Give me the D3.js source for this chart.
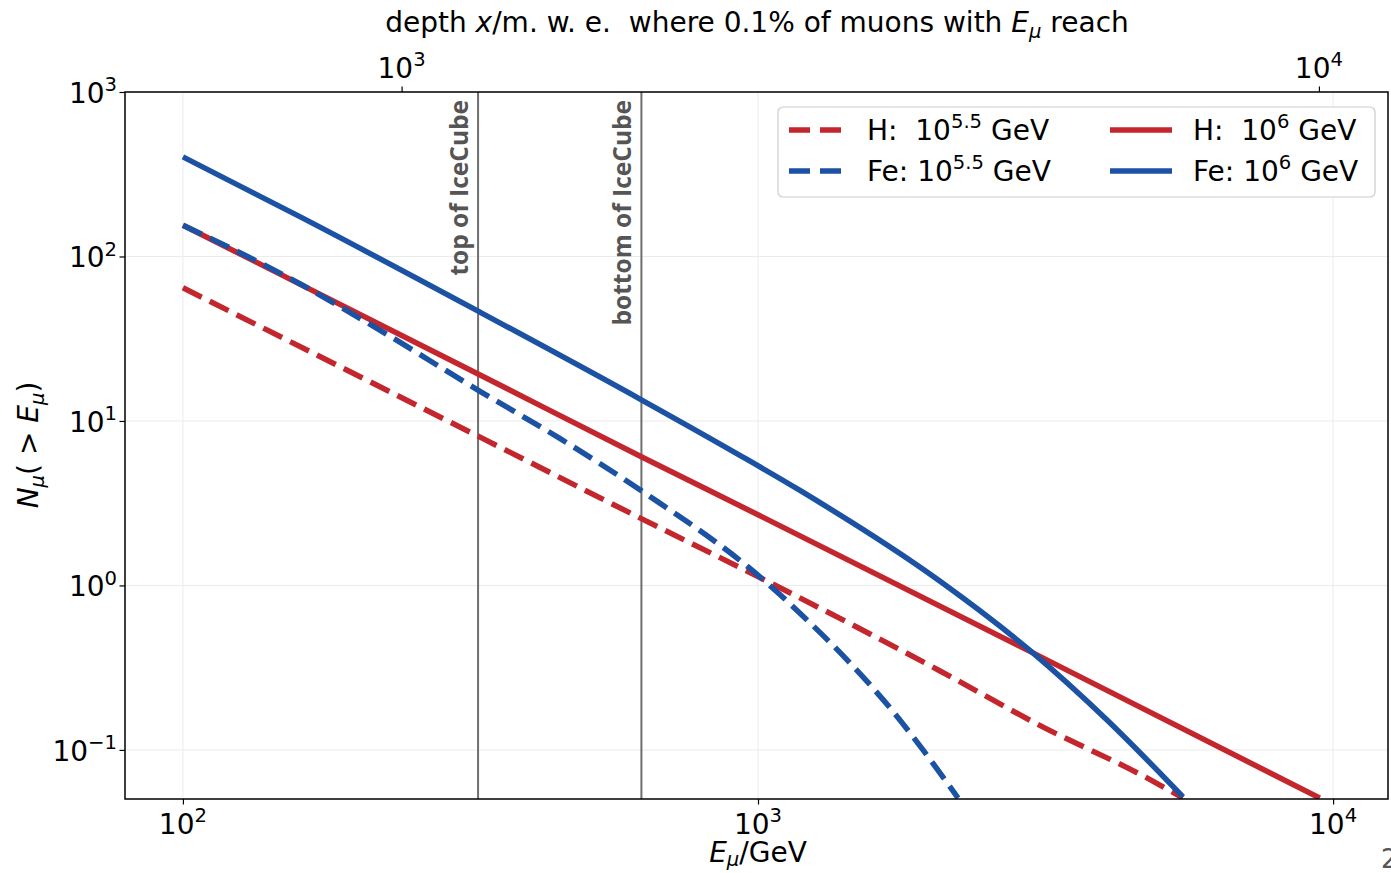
<!DOCTYPE html>
<html><head><meta charset="utf-8">
<script src="https://cdn.jsdelivr.net/npm/d3@7"></script>
<style>
body{margin:0;background:#fff;}
svg{display:block;font-family:"DejaVu Sans",sans-serif;}
text{white-space:pre;}
</style>
</head><body><svg id="c" width="1391" height="873"></svg>
<script>
// ---------- data ----------
const energyH55 = [100, 328, 628, 1016, 2073, 3090, 4806, 5480];
const countH55  = [64.5, 8.0, 2.54, 1.10, 0.302, 0.141, 0.066, 0.051];

const energyH6  = [100, 328, 628, 1000, 3006, 9480];
const countH6   = [155, 19.1, 6.04, 2.69, 0.389, 0.051];

const energyFe55 = [100, 160, 211, 328, 453, 628, 1016, 1217, 1445, 1697, 1936, 2228];
const countFe55  = [155, 68, 38.9, 15.2, 7.8, 3.75, 1.10, 0.617, 0.338, 0.180, 0.100, 0.051];

const energyFe6 = [100, 160, 328, 628, 930, 1183, 2073, 3006, 4045, 5485];
const countFe6  = [403, 174, 46, 13.4, 6.18, 3.78, 1.06, 0.389, 0.152, 0.0518];

const seriesNames = ["H:  10|5.5| GeV", "Fe: 10|5.5| GeV", "H:  10|6| GeV", "Fe: 10|6| GeV"];

const xMajorTicks = [100, 1000, 10000];
const xMinorTicks = [80, 90, 200, 300, 400, 500, 600, 700, 800, 900, 2000, 3000, 4000, 5000, 6000, 7000, 8000, 9000];
const yMajorTicks = [0.1, 1, 10, 100, 1000];
const yMinorTicks = [0.06, 0.07, 0.08, 0.09, 0.2, 0.3, 0.4, 0.5, 0.6, 0.7, 0.8, 0.9,
  2, 3, 4, 5, 6, 7, 8, 9, 20, 30, 40, 50, 60, 70, 80, 90, 200, 300, 400, 500, 600, 700, 800, 900];
const depthMajorTicks = [1000, 10000];
const depthMinorTicks = [400, 500, 600, 700, 800, 900, 2000, 3000, 4000, 5000, 6000, 7000, 8000, 9000];

const iceCubeEnergy = [326, 627];
const iceCubeLabels = ["top of IceCube", "bottom of IceCube"];

// depth (m.w.e.) -> muon energy (GeV) relation of the top axis
const depthA = 845, depthB = 2.5e-4;

// ---------- layout ----------
const W = 1391, H = 873;
const L = 125, R = 1388, T = 92, B = 799;
const RED = "#c4262d", BLUE = "#1c52a4";
const fs = 28;

const svg = d3.select("#c");
const x = d3.scaleLog().domain([79.3, 12460]).range([L, R]);
const y = d3.scaleLog().domain([0.0503, 1000]).range([B, T]);
const depthToX = X => x(depthA * (Math.exp(depthB * X) - 1));

svg.append("rect").attr("width", W).attr("height", H).attr("fill", "#fff");

// grid
const grid = svg.append("g").attr("stroke", "#ebebeb").attr("stroke-width", 1);
xMajorTicks.forEach(v => grid.append("line").attr("x1", x(v)).attr("x2", x(v)).attr("y1", T).attr("y2", B));
yMajorTicks.forEach(v => grid.append("line").attr("x1", L).attr("x2", R).attr("y1", y(v)).attr("y2", y(v)));

// clip
svg.append("clipPath").attr("id", "clip").append("rect")
  .attr("x", L).attr("y", T).attr("width", R - L).attr("height", B - T);

// vertical IceCube lines
const ice = svg.append("g").attr("clip-path", "url(#clip)");
iceCubeEnergy.forEach((e, i) => {
  ice.append("line").attr("x1", x(e)).attr("x2", x(e)).attr("y1", T).attr("y2", B)
    .attr("stroke", "#6e6e6e").attr("stroke-width", 2);
  svg.append("text")
    .attr("transform", `translate(${x(e) - 10},${T + 8}) rotate(-90)`)
    .attr("text-anchor", "end")
    .attr("font-family", "'Open Sans', sans-serif")
    .attr("font-weight", "bold")
    .attr("font-size", 24.5)
    .attr("fill", "#555")
    .text(iceCubeLabels[i]);
});

// curves
const line = d3.line().x(d => x(d[0])).y(d => y(d[1])).curve(d3.curveMonotoneX);
const series = [
  {e: energyH55, n: countH55, color: RED, dash: "21,9"},
  {e: energyFe55, n: countFe55, color: BLUE, dash: "21,9"},
  {e: energyH6, n: countH6, color: RED, dash: null},
  {e: energyFe6, n: countFe6, color: BLUE, dash: null}
];
const plot = svg.append("g").attr("clip-path", "url(#clip)");
[2, 0, 1, 3].forEach(i => {
  const s = series[i];
  plot.append("path")
    .attr("d", line(s.e.map((v, k) => [v, s.n[k]])))
    .attr("fill", "none").attr("stroke", s.color).attr("stroke-width", 5.5)
    .attr("stroke-dasharray", s.dash);
});

// axes
function styleAxis(g) {
  g.select(".domain").remove();
  g.selectAll(".tick line").attr("stroke", "#000").attr("stroke-width", 1.2);
}
function sci(textSel, exp, size) {
  textSel.text(null);
  textSel.append("tspan").text("10");
  textSel.append("tspan").attr("font-size", size * 0.7).attr("dy", -size * 0.42).text(exp);
}
const expOf = v => { const e = Math.round(Math.log10(v)); return e < 0 ? "\u2212" + (-e) : String(e); };

// bottom
const gb = svg.append("g").attr("transform", `translate(0,${B})`);
gb.call(d3.axisBottom(x).tickValues(xMinorTicks).tickSize(3.2).tickFormat(""));
gb.call(d3.axisBottom(x).tickValues(xMajorTicks).tickSize(5.5).tickFormat(""));
styleAxis(gb);
xMajorTicks.forEach(v => {
  const t = svg.append("text").attr("x", x(v)).attr("y", B + 35).attr("text-anchor", "middle")
    .attr("font-size", fs).attr("fill", "#000");
  sci(t, expOf(v), fs);
});
// left
const gl = svg.append("g").attr("transform", `translate(${L},0)`);
gl.call(d3.axisLeft(y).tickValues(yMinorTicks).tickSize(3.2).tickFormat(""));
gl.call(d3.axisLeft(y).tickValues(yMajorTicks).tickSize(5.5).tickFormat(""));
styleAxis(gl);
yMajorTicks.forEach(v => {
  const t = svg.append("text").attr("x", L - 8).attr("y", y(v) + 11).attr("text-anchor", "end")
    .attr("font-size", fs).attr("fill", "#000");
  sci(t, expOf(v), fs);
});
// top (depth)
const gt = svg.append("g").attr("transform", `translate(0,${T})`);
const topAxis = (ticks, size) => d3.axisTop(x).tickValues(ticks.map(X => x.invert(depthToX(X)))).tickSize(size).tickFormat("");
gt.call(topAxis(depthMinorTicks, 3.2));
gt.call(topAxis(depthMajorTicks, 5.5));
styleAxis(gt);
depthMajorTicks.forEach(v => {
  const t = svg.append("text").attr("x", depthToX(v)).attr("y", T - 14).attr("text-anchor", "middle")
    .attr("font-size", fs).attr("fill", "#000");
  sci(t, expOf(v), fs);
});

// frame
svg.append("rect").attr("x", L).attr("y", T).attr("width", R - L).attr("height", B - T)
  .attr("fill", "none").attr("stroke", "#000").attr("stroke-width", 1.5);

// axis labels
const xl = svg.append("text").attr("x", x(1000)).attr("y", 862).attr("text-anchor", "middle").attr("font-size", fs);
xl.append("tspan").attr("font-style", "italic").text("E");
xl.append("tspan").attr("font-style", "italic").attr("font-size", fs * 0.7).attr("dy", 4).text("\u03bc");
xl.append("tspan").attr("dy", -4).text("/GeV");

const yl = svg.append("text").attr("transform", `translate(38,445) rotate(-90)`).attr("text-anchor", "middle").attr("font-size", fs);
yl.append("tspan").attr("font-style", "italic").text("N");
yl.append("tspan").attr("font-style", "italic").attr("font-size", fs * 0.7).attr("dy", 6).text("\u03bc");
yl.append("tspan").attr("dy", -6).text("( > ");
yl.append("tspan").attr("font-style", "italic").text("E");
yl.append("tspan").attr("font-style", "italic").attr("font-size", fs * 0.7).attr("dy", 6).text("\u03bc");
yl.append("tspan").attr("dy", -6).text(")");

const tl = svg.append("text").attr("x", 757).attr("y", 32).attr("text-anchor", "middle").attr("font-size", fs);
tl.append("tspan").text("depth ");
tl.append("tspan").attr("font-style", "italic").text("x");
tl.append("tspan").text("/m. w. e.  where 0.1% of muons with ");
tl.append("tspan").attr("font-style", "italic").text("E");
tl.append("tspan").attr("font-style", "italic").attr("font-size", fs * 0.7).attr("dy", 6).text("\u03bc");
tl.append("tspan").attr("dy", -6).text(" reach");

// legend
const lg = svg.append("g");
lg.append("rect").attr("x", 778).attr("y", 107).attr("width", 597).attr("height", 90).attr("rx", 5)
  .attr("fill", "#fff").attr("stroke", "#cccccc").attr("stroke-width", 1.2);
const legendPos = [[789, 130], [789, 171], [1110, 130], [1110, 171]];
series.forEach((s, i) => {
  const [lx, ly] = legendPos[i];
  lg.append("line").attr("x1", lx).attr("x2", lx + 62).attr("y1", ly).attr("y2", ly)
    .attr("stroke", s.color).attr("stroke-width", 5.5).attr("stroke-dasharray", s.dash ? "21,10" : null);
  const parts = seriesNames[i].split("|");
  const t = lg.append("text").attr("x", lx + 78 + (i >= 2 ? 5 : 0)).attr("y", ly + 10).attr("font-size", fs);
  t.append("tspan").text(parts[0]);
  t.append("tspan").attr("font-size", fs * 0.7).attr("dy", -fs * 0.42).text(parts[1]);
  t.append("tspan").attr("dy", fs * 0.42).text(parts[2]);
});

// page number fragment (cut by the right edge, as in the reference)
svg.append("text").attr("x", 1381).attr("y", 868).attr("font-size", 26).attr("fill", "#555").text("2");
</script></body></html>
